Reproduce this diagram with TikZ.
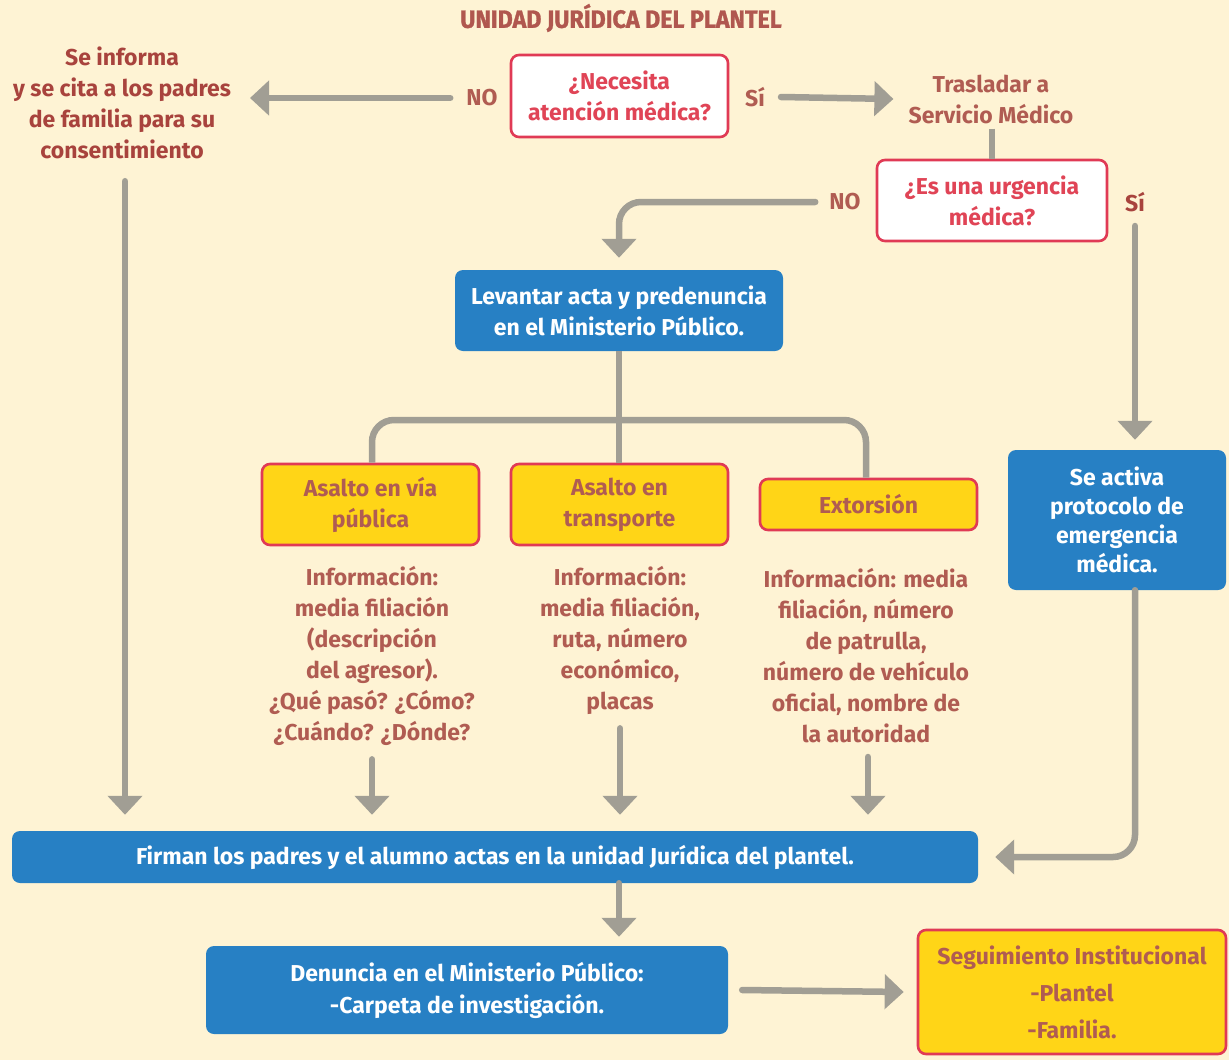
\documentclass[tikz,border=0pt]{standalone}
\usepackage{fontspec}
\setmainfont{Fira Sans}
\newfontfamily\titlefont{Fira Sans}[FakeStretch=0.93, FakeBold=1.2]
\usetikzlibrary{arrows.meta}
\definecolor{bg}{HTML}{FEF3D4}
\definecolor{ttl}{HTML}{B0574F}
\definecolor{qtext}{HTML}{E04456}
\definecolor{brd}{HTML}{E03A55}
\definecolor{brn}{HTML}{B05C52}
\definecolor{dbrn}{HTML}{A8433D}
\definecolor{ylw}{HTML}{FFD517}
\definecolor{blu}{HTML}{2780C4}
\definecolor{gry}{HTML}{A19E94}
\tikzset{
  base/.style={align=center, inner sep=0pt, font=\bfseries\fontsize{23}{31}\selectfont},
  qbox/.style={base, draw=brd, line width=2.6pt, fill=white, rounded corners=8pt, text=qtext},
  bbox/.style={base, fill=blu, rounded corners=8pt, text=white},
  ybox/.style={base, draw=brd, line width=2.6pt, fill=ylw, rounded corners=8pt, text=brn},
  lbl/.style={base, text=brn},
  conn/.style={draw=gry, line width=6.5pt, line cap=round},
  arr/.style={conn, -{Triangle[width=34pt,length=19pt]}},
}
\begin{document}
\begin{tikzpicture}[x=1pt,y=-1pt]
\fill[bg] (0,0) rectangle (1229,1060);
\useasboundingbox (0,0) rectangle (1229,1060);

\node[text=ttl, font=\titlefont\bfseries\fontsize{25}{28}\selectfont] (title) at (621,18) {UNIDAD JURÍDICA DEL PLANTEL};

\node[qbox, minimum width=217pt, minimum height=82pt] (q1) at (619.5,96) {¿Necesita\\atención médica?};
\node[lbl] (no1) at (482,98) {NO};
\node[lbl] (si1) at (755,97) {Sí};
\node[lbl, text=dbrn] (inform) at (122,103) {Se informa\\y se cita a los padres\\de familia para su\\consentimiento};
\node[lbl] (tras) at (991,99) {Trasladar a\\Servicio Médico};

\node[qbox, minimum width=230pt, minimum height=81pt] (q2) at (992,200.5) {¿Es una urgencia\\médica?};
\node[lbl] (no2) at (845,202) {NO};
\node[lbl, text=dbrn] (si2) at (1135,202) {Sí};

\node[bbox, minimum width=328pt, minimum height=81pt] (acta) at (619,310.5) {Levantar acta y predenuncia\\en el Ministerio Público.};

\node[ybox, minimum width=217pt, minimum height=81pt] (asA) at (370.5,504.5) {Asalto en vía\\pública};
\node[ybox, minimum width=217pt, minimum height=81pt] (asB) at (619.5,504.5) {Asalto en\\transporte};
\node[ybox, minimum width=217pt, minimum height=51pt] (ext) at (868.5,504.5) {Extorsión};

\node[lbl] (infoA) at (372,655.5) {Información:\\media filiación\\(descripción\\del agresor).\\¿Qué pasó? ¿Cómo?\\¿Cuándo? ¿Dónde?};
\node[lbl] (infoB) at (620,640) {Información:\\media filiación,\\ruta, número\\económico,\\placas};
\node[lbl] (infoC) at (866,655.5) {Información: media\\filiación, número\\de patrulla,\\número de vehículo\\oficial, nombre de\\la autoridad};

\node[bbox, minimum width=218pt, minimum height=140pt, font=\bfseries\fontsize{23}{29}\selectfont] (prot) at (1117,520) {Se activa\\protocolo de\\emergencia\\médica.};

\node[bbox, minimum width=966pt, minimum height=52pt] (firm) at (495,857) {Firman los padres y el alumno actas en la unidad Jurídica del plantel.};
\node[bbox, minimum width=522pt, minimum height=88pt, font=\bfseries\fontsize{23}{32}\selectfont] (den) at (467,990) {Denuncia en el Ministerio Público:\\-Carpeta de investigación.};
\node[ybox, minimum width=308pt, minimum height=124pt, font=\bfseries\fontsize{23}{37}\selectfont] (seg) at (1072,992) {Seguimiento Institucional\\-Plantel\\-Familia.};

% coordinates for free ends
\coordinate (informR) at (250,98);
\coordinate (branch) at (620,420);

% connectors
\draw[arr] ([xshift=-16pt]no1.west) -- (informR);
\draw[arr] ([xshift=16pt]si1.east) -- ([xshift=-15pt]tras.west);
\draw[conn, line cap=butt] ([yshift=-5pt]tras.south -| q2.north) -- (q2.north);
\draw[arr, rounded corners=22pt] ([xshift=-14pt]no2.west) -| ([yshift=12pt]acta.north);
\draw[arr] ([yshift=-14pt]si2.south) -- ([yshift=10pt]prot.north -| si2.south);
\draw[conn, line cap=butt] (acta.south) -- (asB.north -| acta.south);
\draw[conn, line cap=butt, rounded corners=22pt] (asA.north -| infoA.south) |- (branch) -| (ext.north -| infoC.south);

\draw[arr] (inform.south -| 125,0) ++(0,22) -- ([yshift=16pt]firm.north -| 125,0);
\draw[arr] ([yshift=-14pt]infoA.south) -- ([yshift=16pt]firm.north -| infoA.south);
\draw[arr] ([yshift=-14pt]infoB.south) -- ([yshift=16pt]firm.north -| infoB.south);
\draw[arr] ([yshift=-14pt]infoC.south -| 868,0) -- ([yshift=16pt]firm.north -| 868,0);
\draw[arr, rounded corners=22pt] (prot.south -| si2.south) |- ([xshift=17pt]firm.east);
\draw[arr] (firm.south -| acta.south) -- ([yshift=9pt]den.north -| acta.south);
\draw[arr] ([xshift=14pt]den.east) -- ([xshift=-13pt]seg.west);
\end{tikzpicture}
\end{document}
